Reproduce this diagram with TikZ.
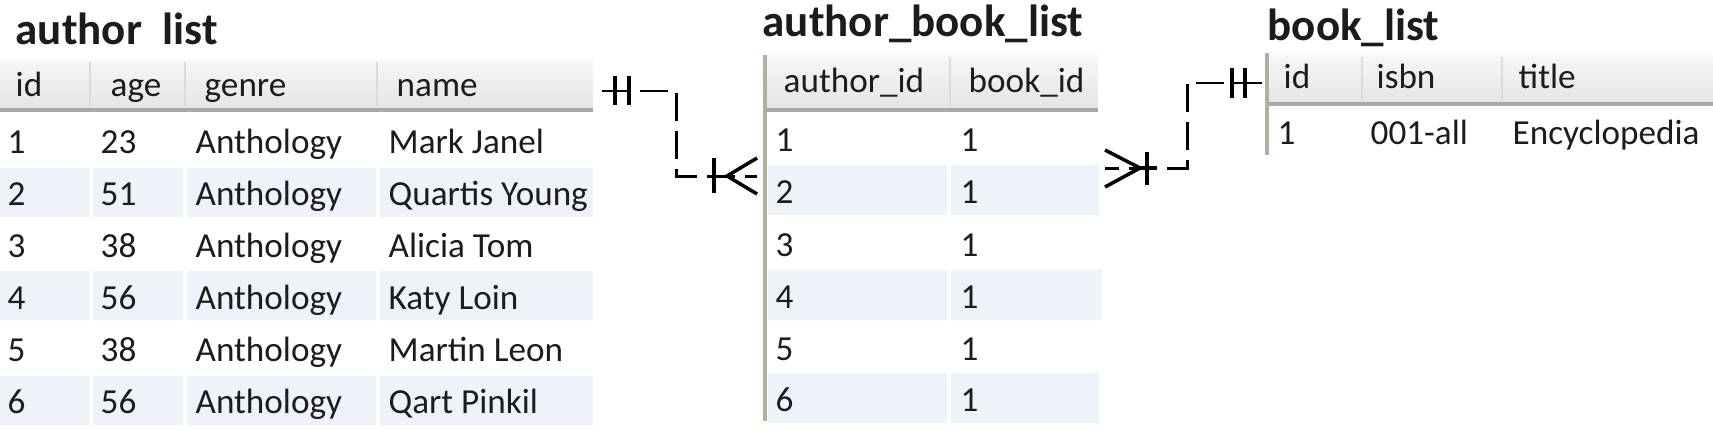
\documentclass[tikz,border=0pt]{standalone}
\usepackage{fontspec}
\setmainfont{Carlito}
\definecolor{rowblue}{HTML}{EEF3FA}
\definecolor{hdrtop}{HTML}{F7F7F7}
\definecolor{hdrbot}{HTML}{E5E5E5}
\definecolor{ruleg}{HTML}{A9A9A9}
\definecolor{edgeg}{HTML}{B5AE9F}
\definecolor{ink}{HTML}{1C1C1C}

\begin{document}
\begin{tikzpicture}[
  x=0.01cm, y=-0.01cm,
  ttl/.style={anchor=base west, inner sep=0pt, text=ink, font=\fontsize{12.8}{15}\selectfont\bfseries},
  hdr/.style={anchor=base west, inner sep=0pt, text=ink, font=\fontsize{10}{12}\selectfont},
  cell/.style={anchor=base west, inner sep=0pt, text=ink, font=\fontsize{10}{12}\selectfont},
  band/.style={top color=hdrtop, bottom color=hdrbot},
  hrule/.style={draw=ruleg, line width=0.9pt},
  vsep/.style={draw=black!14, line width=0.6pt},
  tedge/.style={draw=edgeg, line width=0.9pt},
  relline/.style={draw=black, line width=0.85pt, dash pattern=on 7.97pt off 2.85pt},
  relmark/.style={draw=black, line width=1pt}
]
\fill[white] (0,0) rectangle (1713,430);
\useasboundingbox (0,0) rectangle (1713,430);

% header bands and rules
\shade[band] (0,60) rectangle (593,108);
\shade[band] (767,55) rectangle (1098,108);
\shade[band] (1268,55) rectangle (1713,102);
\draw[hrule] (0,110) -- (593,110);
\draw[hrule] (767,110) -- (1098,110);
\draw[hrule] (1268,104) -- (1713,104);
\draw[vsep] (90,62) -- (90,106) (185,62) -- (185,106) (377,62) -- (377,106);
\draw[vsep] (950,57) -- (950,106);
\draw[vsep] (1362,57) -- (1362,100) (1502,57) -- (1502,100);
\draw[tedge] (765,55) -- (765,421);
\draw[tedge] (1267,53) -- (1267,155);

% shaded rows
\fill[rowblue] (0,168) rectangle (89,217) (93,168) rectangle (183,217) (187,168) rectangle (376,217) (380,168) rectangle (593,217);
\fill[rowblue] (0,271) rectangle (89,320) (93,271) rectangle (183,320) (187,271) rectangle (376,320) (380,271) rectangle (593,320);
\fill[rowblue] (0,376) rectangle (89,425) (93,376) rectangle (183,425) (187,376) rectangle (376,425) (380,376) rectangle (593,425);
\fill[rowblue] (768,165) rectangle (947,215) (951,165) rectangle (1099,215);
\fill[rowblue] (768,270) rectangle (947,320) (951,270) rectangle (1102,320);
\fill[rowblue] (768,373) rectangle (947,423) (951,373) rectangle (1099,423);

% titles
\node[ttl] (t-author) at (15,44) {author\ \ list};
\node[ttl] (t-ab) at (762,36) {author\_book\_list};
\node[ttl] (t-book) at (1267,40) {book\_list};

% author list
\node[hdr] (ah-id) at (15,96) {id};
\node[hdr] (ah-age) at (110,96) {age};
\node[hdr] (ah-genre) at (204,96) {genre};
\node[hdr] (ah-name) at (396,96) {name};
\node[cell] (a1-id) at (7,153) {1};
\node[cell] (a1-age) at (100,153) {23};
\node[cell] (a1-genre) at (195,153) {Anthology};
\node[cell] (a1-name) at (388,153) {Mark Janel};
\node[cell] (a2-id) at (7,205) {2};
\node[cell] (a2-age) at (100,205) {51};
\node[cell] (a2-genre) at (195,205) {Anthology};
\node[cell] (a2-name) at (388,205) {Quartis Young};
\node[cell] (a3-id) at (7,257) {3};
\node[cell] (a3-age) at (100,257) {38};
\node[cell] (a3-genre) at (195,257) {Anthology};
\node[cell] (a3-name) at (388,257) {Alicia Tom};
\node[cell] (a4-id) at (7,309) {4};
\node[cell] (a4-age) at (100,309) {56};
\node[cell] (a4-genre) at (195,309) {Anthology};
\node[cell] (a4-name) at (388,309) {Katy Loin};
\node[cell] (a5-id) at (7,361) {5};
\node[cell] (a5-age) at (100,361) {38};
\node[cell] (a5-genre) at (195,361) {Anthology};
\node[cell] (a5-name) at (388,361) {Martin Leon};
\node[cell] (a6-id) at (7,413) {6};
\node[cell] (a6-age) at (100,413) {56};
\node[cell] (a6-genre) at (195,413) {Anthology};
\node[cell] (a6-name) at (388,413) {Qart Pinkil};

% author_book_list
\node[hdr] (abh-a) at (783,92) {author\_id};
\node[hdr] (abh-b) at (968,92) {book\_id};
\node[cell] (ab1-a) at (775,151) {1};
\node[cell] (ab1-b) at (960,151) {1};
\node[cell] (ab2-a) at (775,203) {2};
\node[cell] (ab2-b) at (960,203) {1};
\node[cell] (ab3-a) at (775,256) {3};
\node[cell] (ab3-b) at (960,256) {1};
\node[cell] (ab4-a) at (775,308) {4};
\node[cell] (ab4-b) at (960,308) {1};
\node[cell] (ab5-a) at (775,360) {5};
\node[cell] (ab5-b) at (960,360) {1};
\node[cell] (ab6-a) at (775,411) {6};
\node[cell] (ab6-b) at (960,411) {1};

% book_list
\node[hdr] (bh-id) at (1283,88) {id};
\node[hdr] (bh-isbn) at (1376,88) {isbn};
\node[hdr] (bh-title) at (1518,88) {title};
\node[cell] (b1-id) at (1277,144) {1};
\node[cell] (b1-isbn) at (1370,144) {001-all};
\node[cell] (b1-title) at (1512,144) {Encyclopedia};

% relations
\coordinate (a-out) at (602,91);
\coordinate (ab-in) at (757,176);
\coordinate (ab-out) at (1105,168);
\coordinate (b-in) at (1262,83);
\draw[relline] (a-out) -- (676,91) |- (ab-in);
\draw[relmark] (a-out) ++(13,-15) -- ++(0,29) (a-out) ++(27,-15) -- ++(0,29);
\draw[relmark] (ab-in) ++(0,-18) -- ++(-30,18) -- ++(30,18);
\draw[relmark] (ab-in) ++(-43,-18) -- ++(0,35);
\draw[relline] (b-in) -- (1187,83) |- (ab-out);
\draw[relmark] (b-in) ++(-30,-15) -- ++(0,30) (b-in) ++(-17,-15) -- ++(0,30);
\draw[relmark] (ab-out) ++(0,-18) -- ++(35,18) -- ++(-35,19);
\draw[relmark] (ab-out) ++(35,0) -- ++(17,0);
\draw[relmark] (ab-out) ++(42,-16) -- ++(0,33);
\end{tikzpicture}
\end{document}
